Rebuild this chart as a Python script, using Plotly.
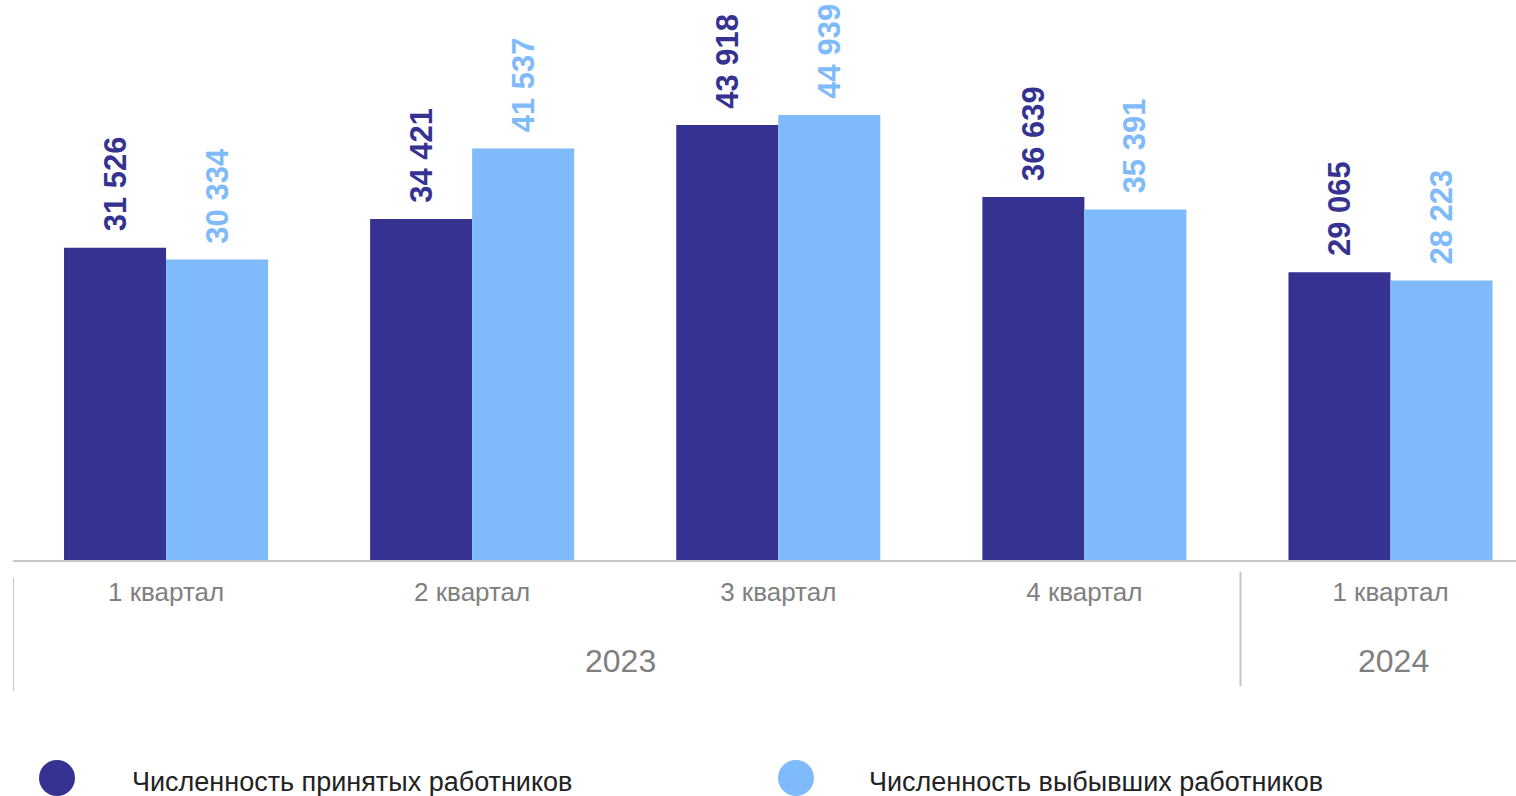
import plotly.graph_objects as go

quarters = ["1 квартал", "2 квартал", "3 квартал", "4 квартал", "1 квартал"]
years = ["2023", "2024"]
year_spans = [(0, 3), (4, 4)]
hired = [31526, 34421, 43918, 36639, 29065]
left = [30334, 41537, 44939, 35391, 28223]
series_names = ["Численность принятых работников", "Численность выбывших работников"]
colors = ["#363292", "#7FBAFA"]

W, H = 1516, 796
ML, MT, MB = 13, 0, 236
plot_h = H - MT - MB
plot_w = W - ML
xr = [-0.5, 4.41]
FONT = "Liberation Sans, Arial"

def fmt(v):
    return f"{v:,}".replace(",", " ")

x = list(range(len(quarters)))
fig = go.Figure()
for vals, name, col in [(hired, series_names[0], colors[0]), (left, series_names[1], colors[1])]:
    fig.add_trace(go.Bar(x=x, y=vals, name=name, marker=dict(color=col, line=dict(width=0)),
                         showlegend=False))

bargap = 1/3
bw = (1 - bargap) / 2
annotations = []
for i in x:
    for k, (vals, col) in enumerate([(hired, colors[0]), (left, colors[1])]):
        xc = i - bw / 2 + k * bw
        annotations.append(dict(x=xc, y=vals[i], xref="x", yref="y", text=fmt(vals[i]),
                                textangle=-90, showarrow=False, yanchor="bottom", xanchor="center",
                                yshift=14, font=dict(family=FONT, size=31,
                                                     color=col, weight="bold")))

def py(Y):
    return (H - MB - Y) / plot_h

def px(X):
    return (X - ML) / plot_w

year_shift = [-5, 3]
for (a, b), yr, s in zip(year_spans, years, year_shift):
    annotations.append(dict(x=(a + b) / 2, y=py(661), xref="x", yref="paper", text=yr,
                            showarrow=False, yanchor="middle", xshift=s,
                            font=dict(family=FONT, size=32, color="#808080")))

shapes = [
    dict(type="line", xref="x", yref="paper", x0=-0.5, x1=-0.5, y0=py(578), y1=py(691),
         line=dict(color="#c4c4c4", width=2)),
    dict(type="line", xref="x", yref="paper", x0=3.51, x1=3.51, y0=py(572), y1=py(686),
         line=dict(color="#c4c4c4", width=2)),
]

legend_pos = [(57, 130), (796, 867)]
for (cx, tx), name, col in zip(legend_pos, series_names, colors):
    shapes.append(dict(type="circle", xref="paper", yref="paper",
                       x0=px(cx - 18), x1=px(cx + 18), y0=py(796), y1=py(760),
                       fillcolor=col, line=dict(width=0)))
    annotations.append(dict(x=px(tx), y=py(782), xref="paper", yref="paper", text=name,
                            showarrow=False, xanchor="left", yanchor="middle",
                            font=dict(family=FONT, size=27, color="#222222")))

fig.update_layout(
    width=W, height=H, margin=dict(l=ML, r=0, t=MT, b=MB),
    barmode="group", bargap=bargap, bargroupgap=0,
    plot_bgcolor="white", paper_bgcolor="white",
    xaxis=dict(range=xr, tickmode="array", tickvals=x, ticktext=quarters,
               showline=True, linecolor="#c8c8c8", linewidth=2, showgrid=False, zeroline=False,
               ticks="", ticklabelstandoff=8,
               tickfont=dict(family=FONT, size=26, color="#808080")),
    yaxis=dict(range=[0, 56540], visible=False, showgrid=False, zeroline=False),
    annotations=annotations, shapes=shapes,
)
fig.write_html("out.html", config={"displayModeBar": False},
               post_script="document.body.style.margin='0';document.body.style.overflow='hidden';")
